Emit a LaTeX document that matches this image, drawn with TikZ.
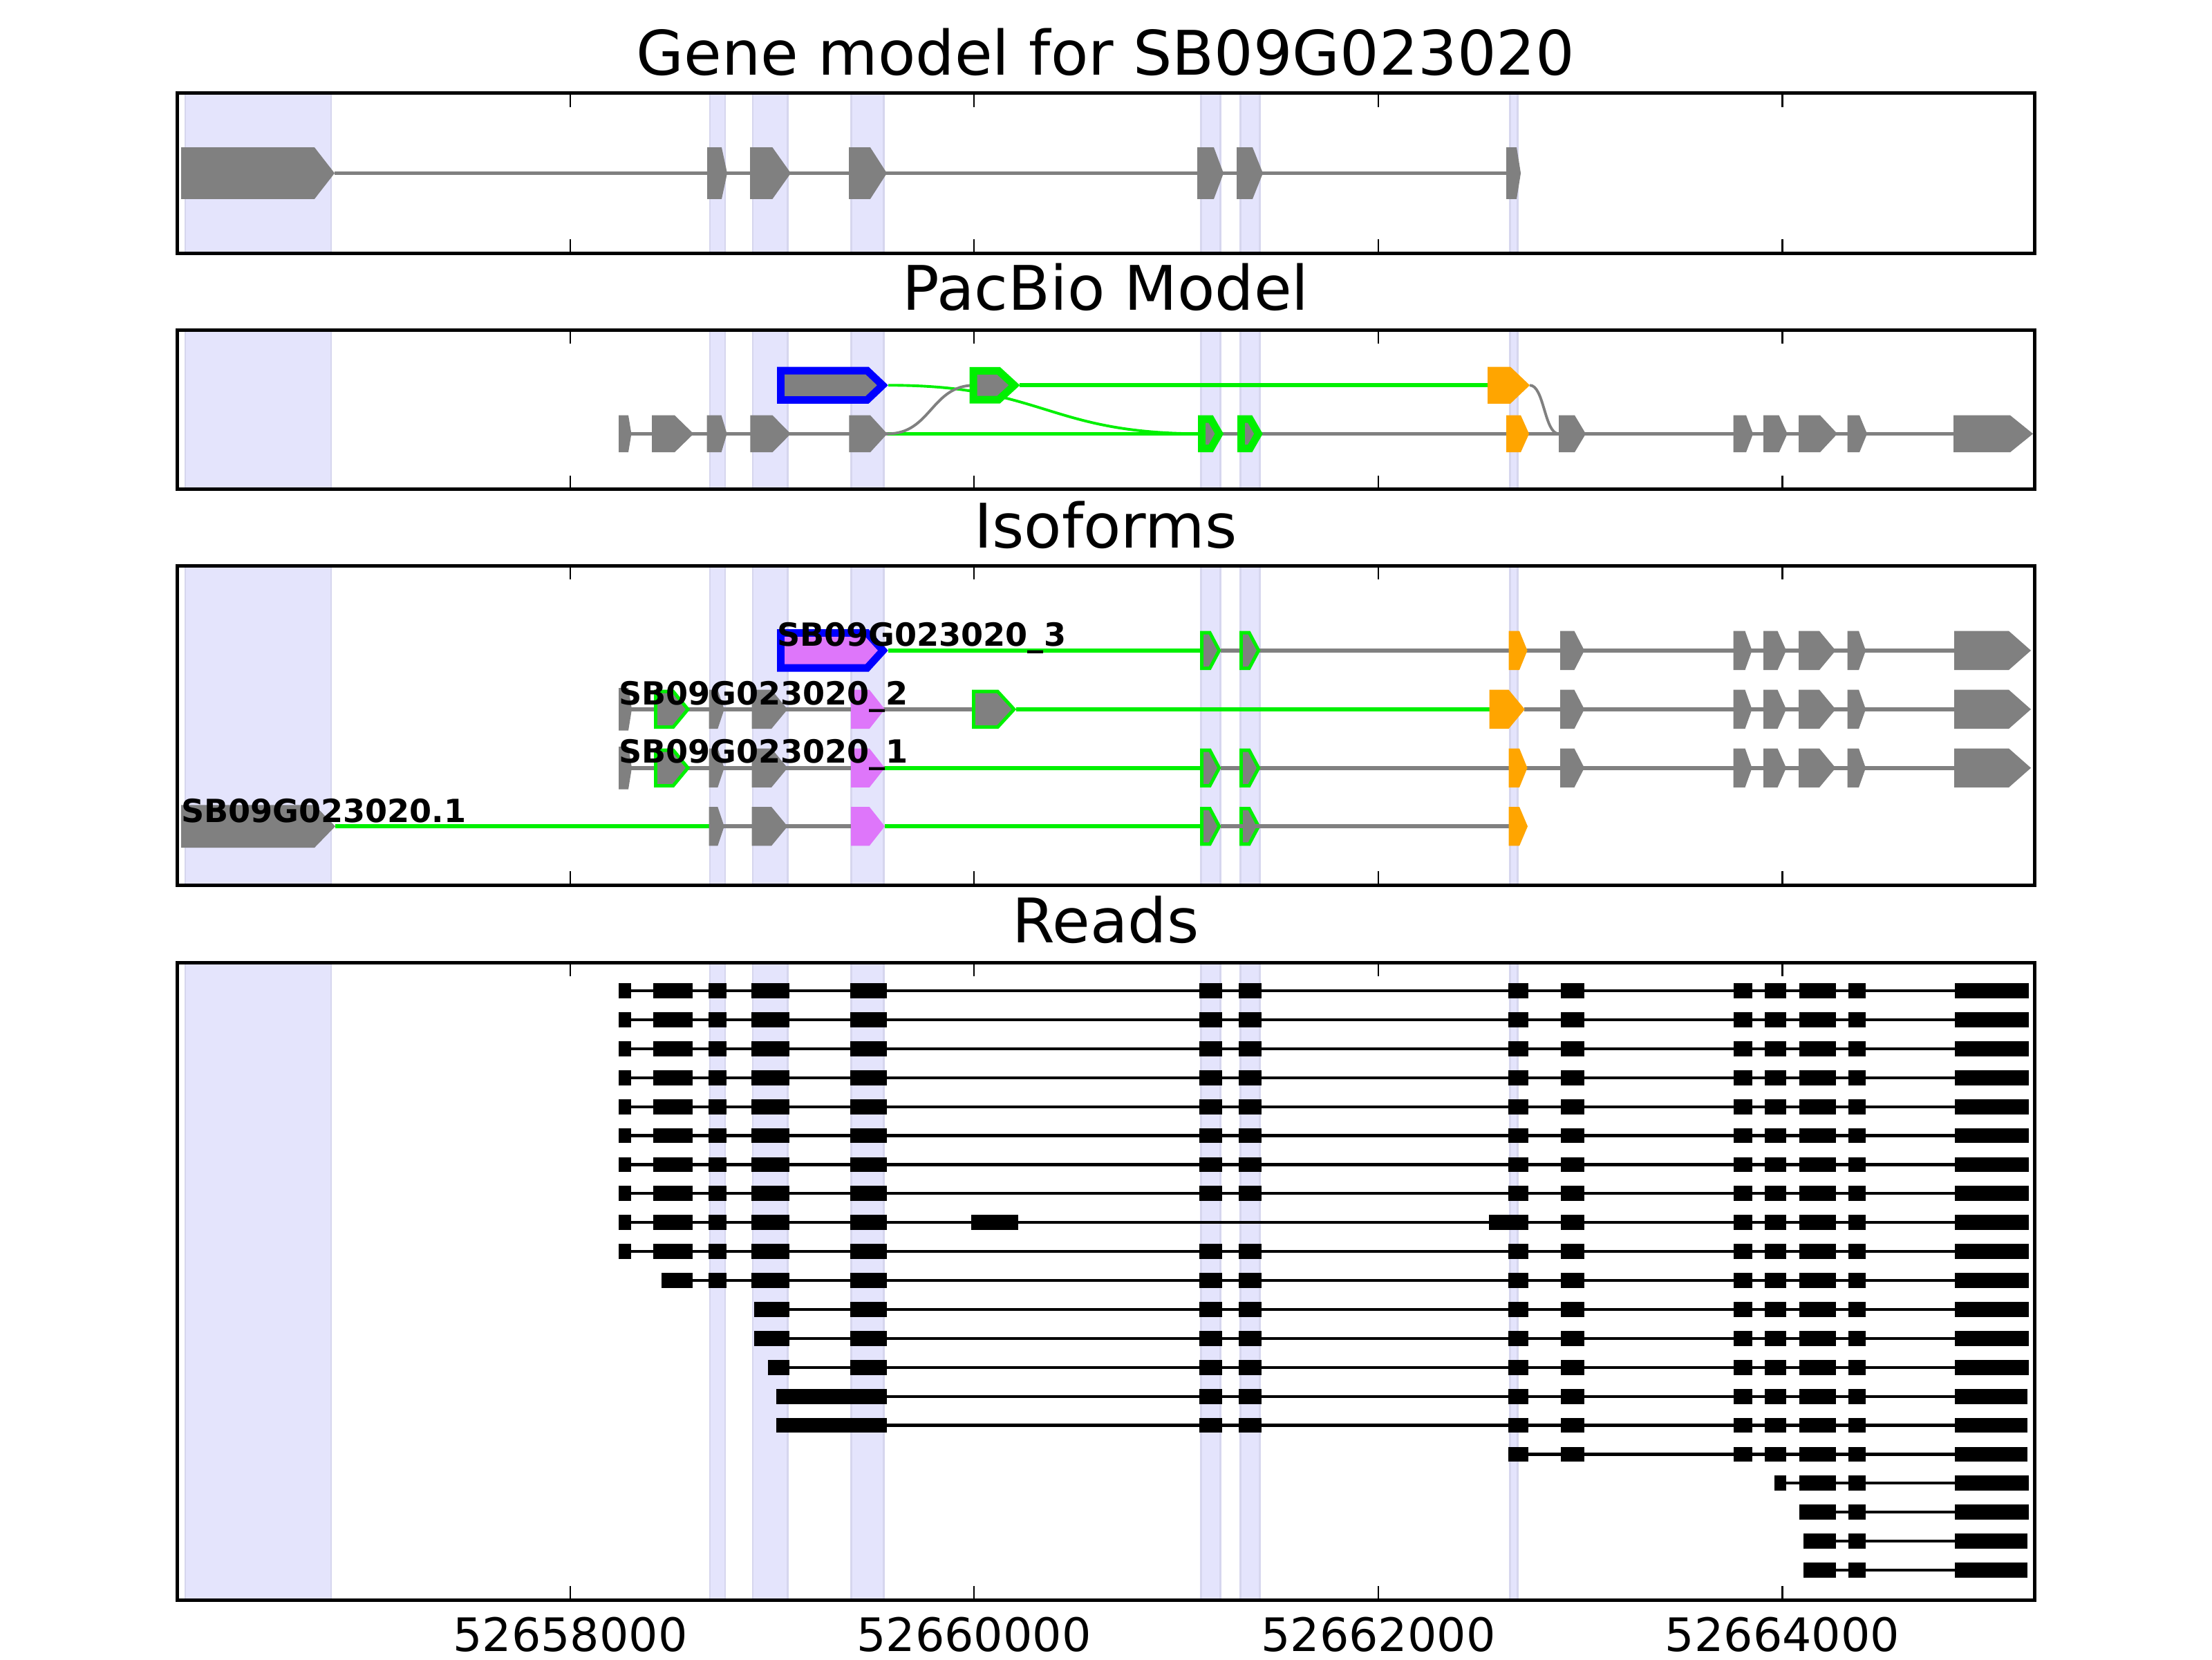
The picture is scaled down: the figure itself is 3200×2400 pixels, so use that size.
\documentclass[tikz,border=0pt]{standalone}
\usepackage{fontspec}
\setmainfont{DejaVu Sans}
\definecolor{exgray}{RGB}{128,128,128}
\definecolor{exgreen}{RGB}{0,240,0}
\definecolor{exblue}{RGB}{0,0,255}
\definecolor{exorange}{RGB}{255,165,0}
\definecolor{exviolet}{RGB}{222,118,250}
\definecolor{shadefill}{RGB}{228,228,252}
\definecolor{shadeedge}{RGB}{214,214,238}
% plain exon: x0, x1 (start of tip), xt (tip), centre y, half height, colour
\newcommand\pex[6]{\fill[#6] (#1,{#4-#5}) -- (#2,{#4-#5}) -- (#3,#4) -- (#2,{#4+#5}) -- (#1,{#4+#5}) -- cycle;}
% outlined exon: same + edge colour, fill colour, border width
\newcommand\oex[8]{%
  \pex{#1}{#2}{#3}{#4}{#5}{#6}%
  \pgfmathsetmacro\exL{sqrt((#3-#2)^2+(#5)^2)}%
  \pgfmathsetmacro\exA{#1+#8}%
  \pgfmathsetmacro\exH{#5-#8}%
  \pgfmathsetmacro\exB{#2+#8*(#3-#2)/(#5)-#8*\exL/(#5)}%
  \pgfmathsetmacro\exT{#3-#8*\exL/(#5)}%
  \pex{\exA}{\exB}{\exT}{#4}{\exH}{#7}}
% read exons: y, list macro
\newcommand\rex[2]{\foreach \a/\b in #2 {\fill[black] (\a,{#1-10.9}) rectangle (\b,{#1+10.9});}}
\def\eA{895/913,945/1002,1025/1050.5,1087.4/1142.3,1229.7/1282.6}
\def\eAb{1025/1050.5,1087.4/1142.3,1229.7/1282.6}
\def\eB{1734.8/1768,1792/1825.3}
\def\eC{2182/2210.7}
\def\eD{2258/2292,2508/2535,2553/2584,2603/2656,2674/2699}
\def\eE{2828/2935}
\def\eEs{2828/2933}
\begin{document}
\begin{tikzpicture}[x=0.18pt,y=-0.18pt,
  every node/.style={inner sep=0pt,outer sep=0pt},
  frame/.style={draw=black,line width=0.9pt},
  tickmark/.style={draw=black,line width=0.5pt},
  shadebox/.style={fill=shadefill,draw=shadeedge,line width=0.5pt},
  conn/.style={line width=1pt},
  curveconn/.style={line width=0.7pt},
  readline/.style={draw=black,line width=0.75pt},
  titletext/.style={font=\fontsize{16}{19}\selectfont,anchor=base},
  ticktext/.style={font=\fontsize{12}{14}\selectfont,anchor=base},
  isotext/.style={font=\fontsize{8.3}{10}\selectfont\bfseries,anchor=base west}]
\useasboundingbox (0,0) rectangle (3200,2400);
\fill[white] (0,0) rectangle (3200,2400);

% ---------- shaded exon regions ----------
\foreach \ya/\yb in {134.5/366,477/707.5,818.3/1280,1392/2314}{
  \foreach \xa/\xb in {268/479,1027/1049,1089/1139.5,1231.5/1278.5,1737.5/1765.5,1794.5/1822.5,2184.5/2195.5}{
    \filldraw[shadebox] (\xa,\ya) rectangle (\xb,\yb);
  }
}

% ---------- titles ----------
\node[titletext] (t1) at (1599.5,108.3) {Gene model for SB09G023020};
\node[titletext] (t2) at (1599.5,448.3) {PacBio Model};
\node[titletext] (t3) at (1599.5,792.4) {Isoforms};
\node[titletext] (t4) at (1599.5,1363) {Reads};

% ---------- panel 1: gene model ----------
\draw[conn,exgray] (484,250.5) -- (2179,250.5);
\pex{262}{455}{484}{250.5}{37.3}{exgray}
\pex{1023}{1044}{1052}{250.5}{37.3}{exgray}
\pex{1085}{1117.5}{1144}{250.5}{37.3}{exgray}
\pex{1228}{1259}{1283}{250.5}{37.3}{exgray}
\pex{1732}{1756}{1770}{250.5}{37.3}{exgray}
\pex{1789}{1812}{1827}{250.5}{37.3}{exgray}
\pex{2179}{2194}{2200}{250.5}{37.3}{exgray}

% ---------- panel 2: PacBio model ----------
\draw[conn,exgray] (895,627.4) -- (1284,627.4);
\draw[conn,exgray] (1740,627.4) -- (2830,627.4);
\draw[conn,exgreen] (1284,627.4) -- (1740,627.4);
\draw[conn,exgreen] (1475,557.2) -- (2155,557.2);
\draw[curveconn,exgreen] (1285,557.2) .. controls (1512.5,557.2) and (1512.5,627.4) .. (1740,627.4);
\draw[curveconn,exgray] (1284,627.4) .. controls (1347,627.4) and (1347,557.2) .. (1410,557.2);
\draw[curveconn,exgray] (2213,557.2) .. controls (2234,557.2) and (2234,627.4) .. (2255,627.4);
% top row
\oex{1124}{1256.6}{1284.7}{557.2}{26.6}{exblue}{exgray}{11}
\oex{1402.6}{1446.7}{1475.4}{557.2}{26.3}{exgreen}{exgray}{11}
\pex{2152}{2185}{2213}{557.2}{26.6}{exorange}
% bottom row
\pex{895}{909}{913.4}{627.4}{26.7}{exgray}
\pex{943}{976}{1003.4}{627.4}{26.7}{exgray}
\pex{1022.7}{1043.6}{1051.6}{627.4}{26.7}{exgray}
\pex{1085.4}{1117.5}{1144}{627.4}{26.7}{exgray}
\pex{1228.4}{1259}{1283.5}{627.4}{26.7}{exgray}
\oex{1733}{1754.7}{1770}{627.4}{26.7}{exgreen}{exgray}{11}
\oex{1790}{1811.4}{1826.7}{627.4}{26.7}{exgreen}{exgray}{11}
\pex{2179}{2200}{2212}{627.4}{26.7}{exorange}
\pex{2255}{2278}{2294}{627.4}{26.7}{exgray}
\pex{2507.5}{2526}{2536}{627.4}{26.7}{exgray}
\pex{2551}{2573.6}{2585.7}{627.4}{26.7}{exgray}
\pex{2602}{2633}{2658}{627.4}{26.7}{exgray}
\pex{2672.5}{2690}{2701}{627.4}{26.7}{exgray}
\pex{2826}{2908}{2941}{627.4}{26.7}{exgray}

% ---------- panel 3: isoforms ----------
% row 1 : SB09G023020_3
\draw[conn,exgreen] (1285,940.85) -- (1740,940.85);
\draw[conn,exgray] (1766,940.85) -- (2830,940.85);
\oex{1124}{1256.6}{1284.7}{940.85}{30.85}{exblue}{exviolet}{11}
\oex{1736}{1751.6}{1766.5}{940.85}{28.2}{exgreen}{exgray}{5}
\oex{1793}{1808.5}{1823.5}{940.85}{28.2}{exgreen}{exgray}{5}
\pex{2182.5}{2198}{2209.5}{940.85}{28.2}{exorange}
% rows 1-3 share the downstream gray exons
\foreach \cy in {940.85,1025.9,1110.7}{
  \pex{2257}{2277.5}{2292}{\cy}{28.2}{exgray}
  \pex{2507.5}{2524.5}{2534.5}{\cy}{28.2}{exgray}
  \pex{2551}{2571.5}{2584}{\cy}{28.2}{exgray}
  \pex{2602}{2632}{2655.5}{\cy}{28.2}{exgray}
  \pex{2672.5}{2689}{2699}{\cy}{28.2}{exgray}
  \pex{2827}{2906}{2938}{\cy}{28.2}{exgray}
}
% row 2 : SB09G023020_2
\draw[conn,exgray] (895,1025.9) -- (1410,1025.9);
\draw[conn,exgreen] (1470,1025.9) -- (2156,1025.9);
\draw[conn,exgray] (2205,1025.9) -- (2830,1025.9);
\oex{1406}{1444.3}{1470.3}{1025.9}{28.2}{exgreen}{exgray}{5}
\pex{2154.6}{2182.5}{2205.8}{1025.9}{28.2}{exorange}
% row 3 : SB09G023020_1
\draw[conn,exgray] (895,1110.7) -- (1280,1110.7);
\draw[conn,exgreen] (1280,1110.7) -- (1740,1110.7);
\draw[conn,exgray] (1766,1110.7) -- (2830,1110.7);
\pex{2182.5}{2198}{2209.5}{1110.7}{28.2}{exorange}
% common first exons of rows 2 and 3
\foreach \cy in {1025.9,1110.7}{
  \pex{895}{909}{914}{\cy}{30.8}{exgray}
  \oex{946}{975}{998.3}{\cy}{28.2}{exgreen}{exgray}{5}
  \pex{1025.7}{1038.3}{1047.7}{\cy}{28.2}{exgray}
  \pex{1087.7}{1116}{1139.3}{\cy}{28.2}{exgray}
  \pex{1231}{1257.7}{1280}{\cy}{28.2}{exviolet}
}
\foreach \cy in {1110.7,1195.2}{
  \oex{1736}{1751.6}{1766.5}{\cy}{28.2}{exgreen}{exgray}{5}
  \oex{1793}{1808.5}{1823.5}{\cy}{28.2}{exgreen}{exgray}{5}
}
% row 4 : SB09G023020.1
\draw[conn,exgreen] (485,1195.2) -- (1027,1195.2);
\draw[conn,exgray] (1027,1195.2) -- (1231,1195.2);
\draw[conn,exgreen] (1280,1195.2) -- (1740,1195.2);
\draw[conn,exgray] (1766,1195.2) -- (2183,1195.2);
\pex{262}{455}{485}{1195.2}{30.8}{exgray}
\pex{1025.7}{1038.3}{1047.7}{1195.2}{28.2}{exgray}
\pex{1087.7}{1116}{1139.3}{1195.2}{28.2}{exgray}
\pex{1231}{1257.7}{1280}{1195.2}{28.2}{exviolet}
\pex{2182.5}{2198}{2210}{1195.2}{28.2}{exorange}
% labels
\node[isotext] (l3) at (1124,934.3) {SB09G023020\_3};
\node[isotext] (l2) at (895,1019) {SB09G023020\_2};
\node[isotext] (l1) at (895,1103.3) {SB09G023020\_1};
\node[isotext] (l0) at (262,1189.3) {SB09G023020.1};

% ---------- panel 4: reads ----------
\foreach \y in {1433,1474.9,1516.8,1558.7,1600.6,1642.5,1684.4,1726.3,1810.1}{
  \draw[readline] (895,\y) -- (2935,\y);
  \rex{\y}{\eA}\rex{\y}{\eB}\rex{\y}{\eC}\rex{\y}{\eD}\rex{\y}{\eE}
}
% row 9
\draw[readline] (895,1768.2) -- (2935,1768.2);
\rex{1768.2}{\eA}\rex{1768.2}{{1405/1473,2154/2210.7}}\rex{1768.2}{\eD}\rex{1768.2}{\eE}
% row 11
\draw[readline] (956.7,1852) -- (2935,1852);
\rex{1852}{{956.7/1002}}\rex{1852}{\eAb}\rex{1852}{\eB}\rex{1852}{\eC}\rex{1852}{\eD}\rex{1852}{\eE}
% rows 12, 13
\foreach \y in {1893.9,1935.8}{
  \draw[readline] (1091.3,\y) -- (2935,\y);
  \rex{\y}{{1091.3/1142.3,1229.7/1282.6}}\rex{\y}{\eB}\rex{\y}{\eC}\rex{\y}{\eD}\rex{\y}{\eE}
}
% row 14
\draw[readline] (1111,1977.7) -- (2935,1977.7);
\rex{1977.7}{{1111/1142.3,1229.7/1282.6}}\rex{1977.7}{\eB}\rex{1977.7}{\eC}\rex{1977.7}{\eD}\rex{1977.7}{\eE}
% rows 15, 16
\foreach \y in {2019.6,2061.5}{
  \draw[readline] (1123,\y) -- (2933,\y);
  \rex{\y}{{1123/1282.6}}\rex{\y}{\eB}\rex{\y}{\eC}\rex{\y}{\eD}\rex{\y}{\eEs}
}
% row 17
\draw[readline] (2182,2103.4) -- (2933,2103.4);
\rex{2103.4}{\eC}\rex{2103.4}{\eD}\rex{2103.4}{\eEs}
% row 18
\draw[readline] (2567,2145.3) -- (2935,2145.3);
\rex{2145.3}{{2567/2584,2603/2656,2674/2699}}\rex{2145.3}{\eE}
% row 19
\draw[readline] (2603,2187.2) -- (2935,2187.2);
\rex{2187.2}{{2603/2656,2674/2699}}\rex{2187.2}{\eE}
% rows 20, 21
\foreach \y in {2229.1,2271}{
  \draw[readline] (2609,\y) -- (2933,\y);
  \rex{\y}{{2609/2656,2674/2699}}\rex{\y}{\eEs}
}

% ---------- frames and ticks ----------
\foreach \ya/\yb in {134.5/366,477/707.5,818.3/1280,1392/2314}{
  \foreach \tx in {825,1409,1994,2578.5}{
    \draw[tickmark] (\tx,\ya) -- (\tx,\ya+20);
    \draw[tickmark] (\tx,\yb) -- (\tx,\yb-20);
  }
  \draw[frame] (256,\ya) rectangle (2943.5,\yb);
}
\node[ticktext] (x1) at (825,2388) {52658000};
\node[ticktext] (x2) at (1409,2388) {52660000};
\node[ticktext] (x3) at (1994,2388) {52662000};
\node[ticktext] (x4) at (2578.5,2388) {52664000};
\end{tikzpicture}
\end{document}
